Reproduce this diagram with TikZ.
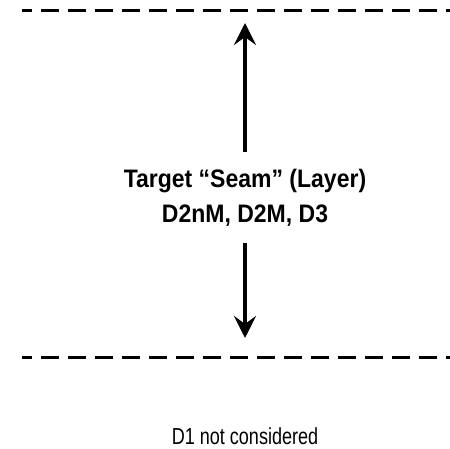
\documentclass[tikz,border=0pt]{standalone}
\usepackage{fontspec}
\setmainfont{Liberation Sans}
\usetikzlibrary{arrows.meta}
\newcommand{\tallbold}[1]{\scalebox{1}[1.1]{#1}}
\newcommand{\tallnote}[1]{\scalebox{0.95}[1.22]{#1}}
\begin{document}
\begin{tikzpicture}[x=1pt,y=1pt,
  seam/.style={line width=3pt, dash pattern=on 18pt off 9pt, dash phase=8pt},
  shaft/.style={line width=4.5pt, -{Stealth[length=22pt,width=22pt,inset=8pt]}},
  title/.style={font=\fontsize{23}{28}\selectfont\bfseries, anchor=base, inner sep=0pt},
  note/.style={font=\fontsize{19}{23}\selectfont, anchor=base, inner sep=0pt}]
\useasboundingbox (0,0) rectangle (450,449);
% layer boundaries
\coordinate (topL) at (22,438);
\coordinate (topR) at (450,438);
\coordinate (botL) at (22,91);
\coordinate (botR) at (450,91);
\draw[seam] (topL) -- (topR);
\draw[seam] (botL) -- (botR);
% layer label
\node[title] (lineA) at (245,261) {\tallbold{Target “Seam” (Layer)}};
\node[title] (lineB) at (245,226) {\tallbold{D2nM, D2M, D3}};
% thickness arrows
\coordinate (upStart) at (245,297);
\coordinate (upTip) at (245,426);
\coordinate (downStart) at (245,206);
\coordinate (downTip) at (245,111);
\draw[shaft] (upStart) -- (upTip);
\draw[shaft] (downStart) -- (downTip);
% footnote
\node[note] (excluded) at (245,4) {\tallnote{D1 not considered}};
\end{tikzpicture}
\end{document}
